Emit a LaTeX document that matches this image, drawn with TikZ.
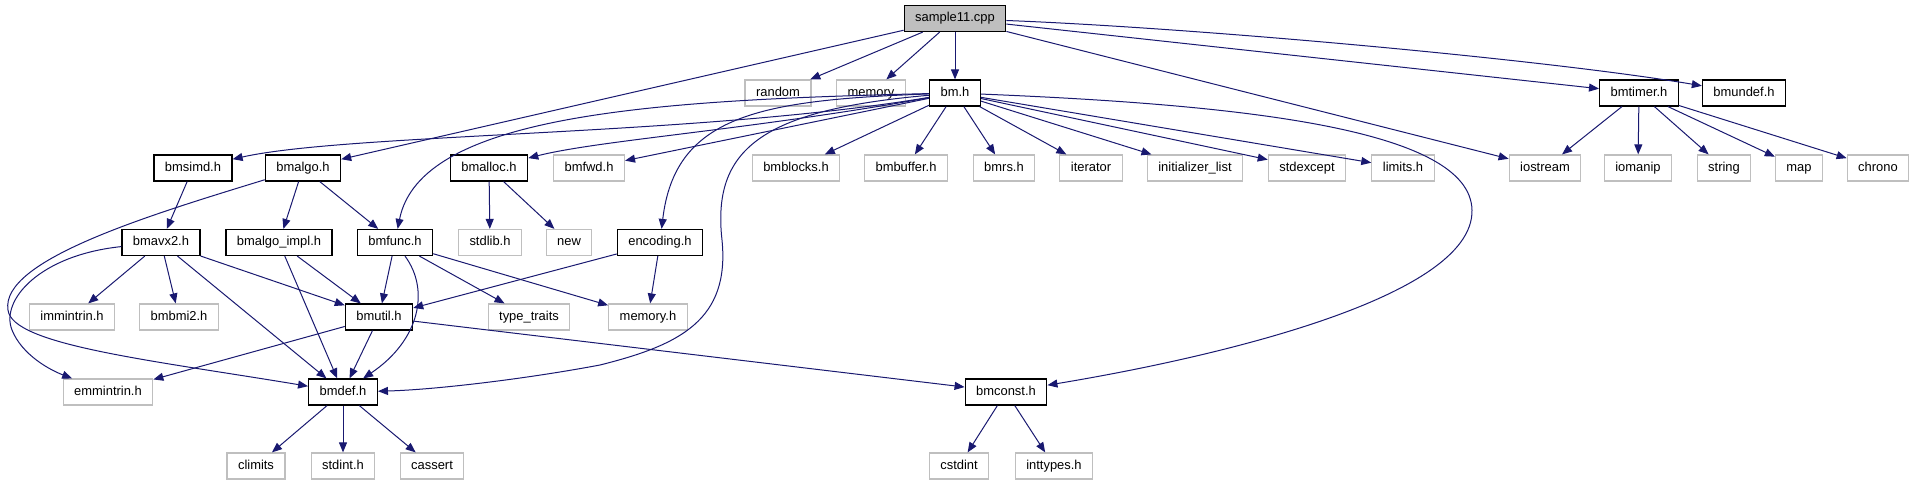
\documentclass[tikz,border=0pt]{standalone}
\usepackage{fontspec}
\setmainfont{Liberation Sans}
\usepackage{xcolor}
\usepackage{tikz}
\usetikzlibrary{arrows.meta}
\definecolor{DoxyBlue}{RGB}{25,25,112}
\definecolor{DoxyGrey}{RGB}{191,191,191}
\definecolor{DoxyFill}{RGB}{191,191,191}

\begin{document}
\begin{tikzpicture}[x=0.75pt, y=-0.75pt,
    usrfile/.style={draw=black, line width=0.9pt, fill=white, rectangle, inner xsep=8.25pt, inner ysep=0pt, text height=7pt, text depth=2pt, minimum height=19.5pt, font=\fontsize{9.7}{11}\selectfont},
    sysfile/.style={usrfile, draw=DoxyGrey},
    incl/.style={-{Triangle[length=7.5pt,width=6pt]}, draw=DoxyBlue, fill=none, line width=0.75pt}]
    \useasboundingbox (0,0) rectangle (1914,485);

    \node (Sample) [usrfile, fill=DoxyFill] at (955,18.5) {sample11.cpp};

    \node (Random) [sysfile] at (778,93) {random};
    \node (Memory) [sysfile] at (871,93) {memory};
    \node (Bm) [usrfile] at (955,93) {bm.h};
    \node (BmTimer) [usrfile] at (1639,93) {bmtimer.h};
    \node (BmUndef) [usrfile] at (1744,93) {bmundef.h};

    \node (BmSimd) [usrfile] at (193,168) {bmsimd.h};
    \node (BmAlgo) [usrfile] at (303,168) {bmalgo.h};
    \node (BmAlloc) [usrfile] at (489,168) {bmalloc.h};
    \node (BmFwd) [sysfile] at (589,168) {bmfwd.h};
    \node (BmBlocks) [sysfile] at (796,168) {bmblocks.h};
    \node (BmBuffer) [sysfile] at (906,168) {bmbuffer.h};
    \node (BmRs) [sysfile] at (1004,168) {bmrs.h};
    \node (Iterator) [sysfile] at (1091,168) {iterator};
    \node (InitList) [sysfile] at (1195,168) {initializer\_list};
    \node (StdExcept) [sysfile] at (1307,168) {stdexcept};
    \node (Limits) [sysfile] at (1403,168) {limits.h};
    \node (IoStream) [sysfile] at (1545,168) {iostream};
    \node (IoManip) [sysfile] at (1638,168) {iomanip};
    \node (String) [sysfile] at (1724,168) {string};
    \node (Map) [sysfile] at (1799,168) {map};
    \node (Chrono) [sysfile] at (1878,168) {chrono};

    \node (BmAvx2) [usrfile] at (161,242.5) {bmavx2.h};
    \node (BmAlgoImpl) [usrfile] at (279,242.5) {bmalgo\_impl.h};
    \node (BmFunc) [usrfile] at (395,242.5) {bmfunc.h};
    \node (StdLib) [sysfile] at (490,242.5) {stdlib.h};
    \node (New) [sysfile] at (569,242.5) {new};
    \node (Encoding) [usrfile] at (660,242.5) {encoding.h};

    \node (ImmIntrin) [sysfile] at (72,317) {immintrin.h};
    \node (BmBmi2) [sysfile] at (179,317) {bmbmi2.h};
    \node (BmUtil) [usrfile] at (379,317) {bmutil.h};
    \node (TypeTraits) [sysfile] at (529,317) {type\_traits};
    \node (MemoryH) [sysfile] at (648,317) {memory.h};

    \node (EmmIntrin) [sysfile] at (108,392) {emmintrin.h};
    \node (BmDef) [usrfile] at (343,392) {bmdef.h};
    \node (BmConst) [usrfile] at (1006,392) {bmconst.h};

    \node (CLimits) [sysfile] at (256,466) {climits};
    \node (StdInt) [sysfile] at (343,466) {stdint.h};
    \node (CAssert) [sysfile] at (432,466) {cassert};
    \node (CStdInt) [sysfile] at (959,466) {cstdint};
    \node (IntTypes) [sysfile] at (1054,466) {inttypes.h};

    \draw[incl] (Sample) -- (Random);
    \draw[incl] (Sample) -- (Memory);
    \draw[incl] (Sample) -- (Bm);
    \draw[incl] (Sample) -- (BmAlgo);
    \draw[incl] (Sample) -- (IoStream);
    \draw[incl] (Sample) -- (BmTimer);
    \draw[incl] (Sample) .. controls (1200,28) and (1550,60) .. (BmUndef);

    \draw[incl] (Bm) .. controls (700,136) and (350,133) .. (BmSimd);
    \draw[incl] (Bm) .. controls (750,130) and (600,140) .. (BmAlloc);
    \draw[incl] (Bm) -- (BmFwd);
    \draw[incl] (Bm) .. controls (650,100) and (420,115) .. (BmFunc);
    \draw[incl] (Bm) .. controls (760,100) and (675,115) .. (Encoding);
    \draw[incl] (Bm) .. controls (760,110) and (712,150) .. (722,240)
        .. controls (730,320) and (680,345) .. (600,365)
        .. controls (520,380) and (430,390) .. (BmDef);
    \draw[incl] (Bm) -- (BmBlocks);
    \draw[incl] (Bm) -- (BmBuffer);
    \draw[incl] (Bm) -- (BmRs);
    \draw[incl] (Bm) -- (Iterator);
    \draw[incl] (Bm) -- (InitList);
    \draw[incl] (Bm) -- (StdExcept);
    \draw[incl] (Bm) -- (Limits);
    \draw[incl] (Bm) .. controls (1250,105) and (1470,130) .. (1472,210)
        .. controls (1474,300) and (1200,360) .. (BmConst);

    \draw[incl] (BmTimer) -- (IoStream);
    \draw[incl] (BmTimer) -- (IoManip);
    \draw[incl] (BmTimer) -- (String);
    \draw[incl] (BmTimer) -- (Map);
    \draw[incl] (BmTimer) -- (Chrono);

    \draw[incl] (BmSimd) -- (BmAvx2);
    \draw[incl] (BmAlgo) -- (BmAlgoImpl);
    \draw[incl] (BmAlgo) -- (BmFunc);
    \draw[incl] (BmAlgo) .. controls (150,215) and (0,260) .. (8,310)
        .. controls (12,345) and (150,360) .. (BmDef);
    \draw[incl] (BmAlloc) -- (StdLib);
    \draw[incl] (BmAlloc) -- (New);

    \draw[incl] (BmAvx2) -- (ImmIntrin);
    \draw[incl] (BmAvx2) -- (BmBmi2);
    \draw[incl] (BmAvx2) -- (BmDef);
    \draw[incl] (BmAvx2) -- (BmUtil);
    \draw[incl] (BmAvx2) .. controls (40,255) and (0,300) .. (12,330)
        .. controls (22,355) and (50,370) .. (EmmIntrin);
    \draw[incl] (BmAlgoImpl) -- (BmUtil);
    \draw[incl] (BmAlgoImpl) -- (BmDef);
    \draw[incl] (BmFunc) -- (BmUtil);
    \draw[incl] (BmFunc) .. controls (430,290) and (420,340) .. (BmDef);
    \draw[incl] (BmFunc) -- (TypeTraits);
    \draw[incl] (BmFunc) -- (MemoryH);
    \draw[incl] (Encoding) -- (BmUtil);
    \draw[incl] (Encoding) -- (MemoryH);

    \draw[incl] (BmUtil) -- (EmmIntrin);
    \draw[incl] (BmUtil) -- (BmDef);
    \draw[incl] (BmUtil) -- (BmConst);

    \draw[incl] (BmDef) -- (CLimits);
    \draw[incl] (BmDef) -- (StdInt);
    \draw[incl] (BmDef) -- (CAssert);
    \draw[incl] (BmConst) -- (CStdInt);
    \draw[incl] (BmConst) -- (IntTypes);
\end{tikzpicture}
\end{document}
